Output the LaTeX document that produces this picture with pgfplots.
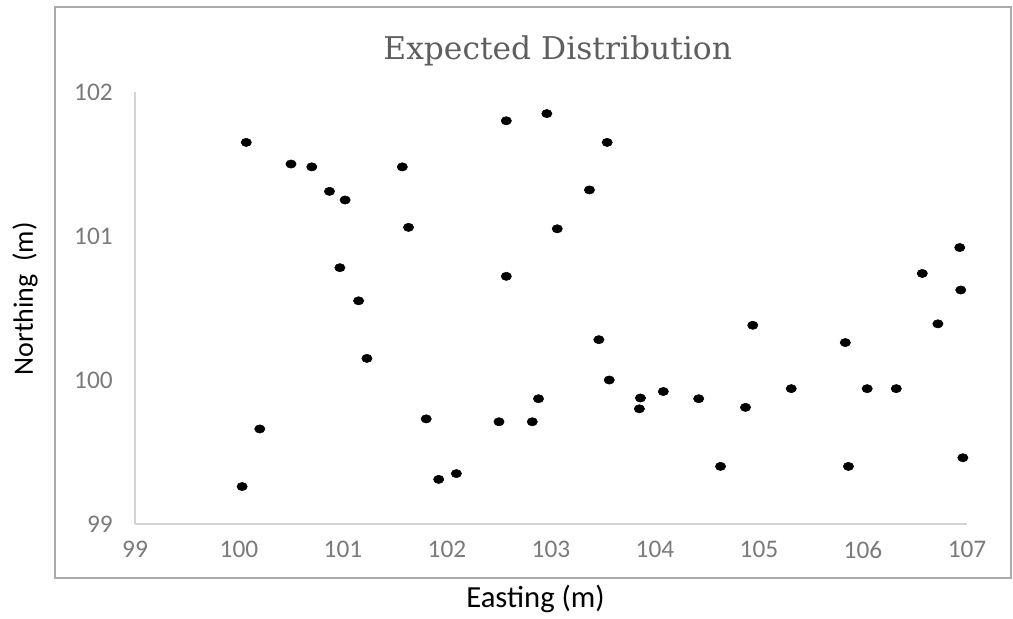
\documentclass[border=0pt]{standalone}
\usepackage{fontspec}
\setmainfont{Carlito}
\newfontfamily\titlefont{DejaVu Serif}
\usepackage{pgfplots}
\pgfplotsset{compat=1.18}
\definecolor{framegray}{HTML}{ABABAB}
\definecolor{axisgray}{HTML}{D3D3D3}
\definecolor{tickgray}{HTML}{7A7A7A}
\definecolor{titlegray}{HTML}{5E5E5E}
\begin{document}
\begin{tikzpicture}
\path[use as bounding box] (-101.25pt,-70.5pt) rectangle (658.5pt,393pt);
\draw[framegray, line width=1.5pt] (-60pt,-40.5pt) rectangle (657pt,387.75pt);
\begin{axis}[
  name=ax, at={(0,0)}, anchor=south west,
  scale only axis, width=624pt, height=324pt,
  xmin=99, xmax=107, ymin=99, ymax=102,
  xtick={99,100,...,107}, ytick={99,100,101,102},
  axis x line*=bottom, axis y line*=left,
  axis line style={axisgray, line width=0.9pt},
  major tick length=0pt,
  /pgf/number format/assume math mode=true,
  tick label style={font=\fontsize{19}{19}\selectfont, text=tickgray, inner sep=0pt},
  xticklabel style={yshift=-12.75pt},
  yticklabel style={xshift=-16.5pt},
  clip=false,
]
\addplot[only marks, mark=*, mark size=3.1pt, mark options={xscale=1.25, fill=black, draw=black}] coordinates {
(100.07,101.65) (100.50,101.50) (100.70,101.48) (100.87,101.31) (101.02,101.25)
(100.97,100.78) (101.15,100.55) (101.23,100.15) (100.20,99.66) (100.03,99.26)
(101.57,101.48) (101.63,101.06) (101.80,99.73) (101.92,99.31) (102.09,99.35)
(102.57,101.80) (102.96,101.85) (102.57,100.72) (102.50,99.71) (102.82,99.71)
(102.88,99.87) (103.06,101.05) (103.37,101.32) (103.54,101.65) (103.46,100.28)
(103.56,100.00) (103.86,99.875) (103.85,99.80) (104.08,99.92) (104.42,99.87)
(104.63,99.40) (104.87,99.81) (104.94,100.38) (105.31,99.94) (105.83,100.26)
(105.86,99.40) (106.04,99.94) (106.32,99.94) (106.57,100.74) (106.72,100.39)
(106.93,100.92) (106.94,100.625) (106.96,99.46)
};
\end{axis}
\node[anchor=base, text=titlegray, font=\titlefont\fontsize{23.5}{23.5}\selectfont, inner sep=0pt] at (317pt,348pt) {Expected Distribution};
\node[anchor=base, text=black, font=\fontsize{23}{23}\selectfont, inner sep=0pt] at (300.4pt,-62.25pt) {Easting (m)};
\node[anchor=base, rotate=90, text=black, font=\fontsize{21}{21}\selectfont, inner sep=0pt] at (-76.5pt,169pt) {Northing~~(m)};
\end{tikzpicture}
\end{document}
